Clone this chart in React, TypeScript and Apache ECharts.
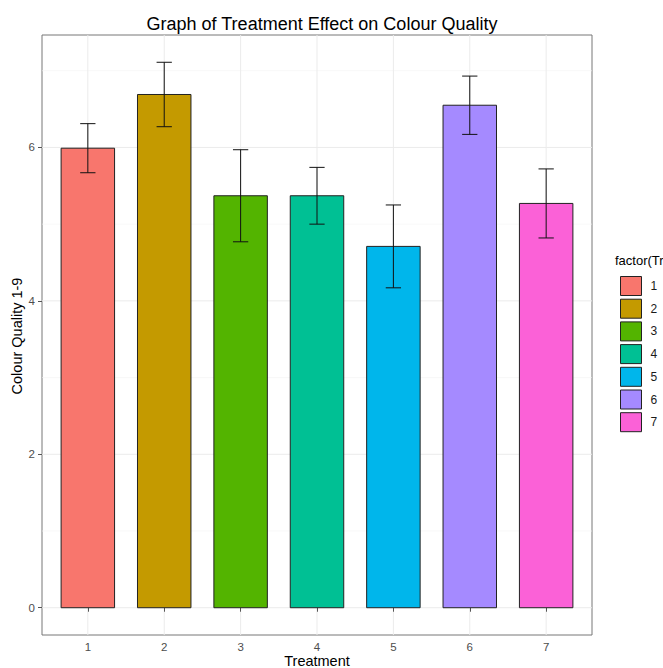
import React, { useEffect, useRef } from "react";
import * as echarts from "echarts";

const treatments = ["1", "2", "3", "4", "5", "6", "7"];
const means = [5.99, 6.69, 5.37, 5.37, 4.71, 6.55, 5.27];
const errors = [0.32, 0.42, 0.6, 0.37, 0.54, 0.38, 0.45];
const colors = ["#F8766D", "#C49A00", "#53B400", "#00C094", "#00B6EB", "#A58AFF", "#FB61D7"];
const xTicks = [1, 2, 3, 4, 5, 6, 7];
const yTicks = [0, 2, 4, 6];
const yMinor = [1, 3, 5, 7];

export default function App() {
  const ref = useRef<HTMLDivElement>(null);
  useEffect(() => {
    if (!ref.current) return;
    const chart = echarts.init(ref.current, undefined, { renderer: "svg" });
    const maxHi = Math.max(...means.map((m, i) => m + errors[i]));
    const pad = maxHi * 0.05;
    const gridSeries: any = {
      type: "custom",
      name: "grid",
      z: 0,
      silent: true,
      data: [[1, 0]],
      renderItem: (params: any, api: any) => {
        const cs = params.coordSys;
        const children: any[] = [];
        yMinor.forEach((v) => {
          const p = api.coord([1, v]);
          children.push({
            type: "line",
            shape: { x1: cs.x, y1: p[1], x2: cs.x + cs.width, y2: p[1] },
            style: { stroke: "#f4f4f4", lineWidth: 0.6 },
          });
        });
        yTicks.forEach((v) => {
          const p = api.coord([1, v]);
          children.push({
            type: "line",
            shape: { x1: cs.x, y1: p[1], x2: cs.x + cs.width, y2: p[1] },
            style: { stroke: "#ebebeb", lineWidth: 1 },
          });
        });
        xTicks.forEach((v) => {
          const p = api.coord([v, 0]);
          children.push({
            type: "line",
            shape: { x1: p[0], y1: cs.y, x2: p[0], y2: cs.y + cs.height },
            style: { stroke: "#ebebeb", lineWidth: 1 },
          });
        });
        return { type: "group", children };
      },
    };
    const barSeries: any[] = treatments.map((t, i) => ({
      type: "custom",
      name: t,
      z: 2,
      itemStyle: { color: colors[i], borderColor: "#222", borderWidth: 1 },
      data: [[i + 1, means[i], means[i] - errors[i], means[i] + errors[i]]],
      renderItem: (params: any, api: any) => {
        const x = api.value(0);
        const y = api.value(1);
        const lo = api.value(2);
        const hi = api.value(3);
        const p0 = api.coord([x - 0.35, 0]);
        const p1 = api.coord([x + 0.35, y]);
        const top = api.coord([x, hi]);
        const bot = api.coord([x, lo]);
        const cl = api.coord([x - 0.1, hi]);
        const cr = api.coord([x + 0.1, hi]);
        const bl = api.coord([x - 0.1, lo]);
        const br = api.coord([x + 0.1, lo]);
        const es = { stroke: "#111", lineWidth: 1 };
        return {
          type: "group",
          children: [
            {
              type: "rect",
              shape: { x: p0[0], y: p1[1], width: p1[0] - p0[0], height: p0[1] - p1[1] },
              style: { fill: colors[i], stroke: "#222", lineWidth: 1 },
            },
            { type: "line", shape: { x1: top[0], y1: top[1], x2: bot[0], y2: bot[1] }, style: es },
            { type: "line", shape: { x1: cl[0], y1: cl[1], x2: cr[0], y2: cr[1] }, style: es },
            { type: "line", shape: { x1: bl[0], y1: bl[1], x2: br[0], y2: br[1] }, style: es },
          ],
        };
      },
    }));
    chart.setOption({
      animation: false,
      title: {
        text: "Graph of Treatment Effect on Colour Quality",
        left: 317,
        textAlign: "center",
        top: 10,
        textStyle: { fontFamily: "Liberation Sans", fontSize: 18, fontWeight: "normal", color: "#000" },
      },
      grid: {
        left: 42,
        right: 71,
        top: 35,
        bottom: 33,
        show: true,
        borderColor: "#777",
        borderWidth: 1,
        backgroundColor: "#fff",
      },
      xAxis: {
        type: "value",
        min: 0.4,
        max: 7.6,
        splitLine: { show: false },
        axisLine: { show: false },
        axisTick: { show: true, length: 4, customValues: xTicks, lineStyle: { color: "#555" } },
        axisLabel: {
          customValues: xTicks,
          fontFamily: "Liberation Sans",
          fontSize: 11.5,
          color: "#4d4d4d",
          margin: 6,
        },
      },
      yAxis: {
        type: "value",
        min: -pad,
        max: maxHi + pad,
        splitLine: { show: false },
        axisLine: { show: false },
        axisTick: { show: true, length: 4, customValues: yTicks, lineStyle: { color: "#555" } },
        axisLabel: {
          customValues: yTicks,
          fontFamily: "Liberation Sans",
          fontSize: 11.5,
          color: "#4d4d4d",
          margin: 7,
        },
      },
      legend: {
        data: treatments,
        orient: "vertical",
        left: 615,
        top: 271,
        icon: "rect",
        itemWidth: 21,
        itemHeight: 19,
        itemGap: 2.7,
        itemStyle: { borderColor: "#222", borderWidth: 1 },
        textStyle: { fontFamily: "Liberation Sans", fontSize: 12, color: "#1a1a1a", padding: [0, 0, 0, 4] },
      },
      graphic: [
        {
          type: "text",
          left: 615,
          top: 254,
          style: { text: "factor(Treatment)", font: "13px 'Liberation Sans'", fill: "#000" },
        },
        {
          type: "text",
          x: 17,
          y: 336,
          rotation: Math.PI / 2,
          style: {
            text: "Colour Quality 1-9",
            font: "14.5px 'Liberation Sans'",
            fill: "#000",
            align: "center",
            verticalAlign: "middle",
          },
        },
        {
          type: "text",
          x: 317,
          y: 661,
          style: {
            text: "Treatment",
            font: "14.5px 'Liberation Sans'",
            fill: "#000",
            align: "center",
            verticalAlign: "middle",
          },
        },
      ],
      series: [gridSeries, ...barSeries],
    });
    return () => chart.dispose();
  }, []);
  return (
    <div
      ref={ref}
      style={{ position: "fixed", left: 0, top: 0, width: 663, height: 668, background: "#fff" }}
    />
  );
}
